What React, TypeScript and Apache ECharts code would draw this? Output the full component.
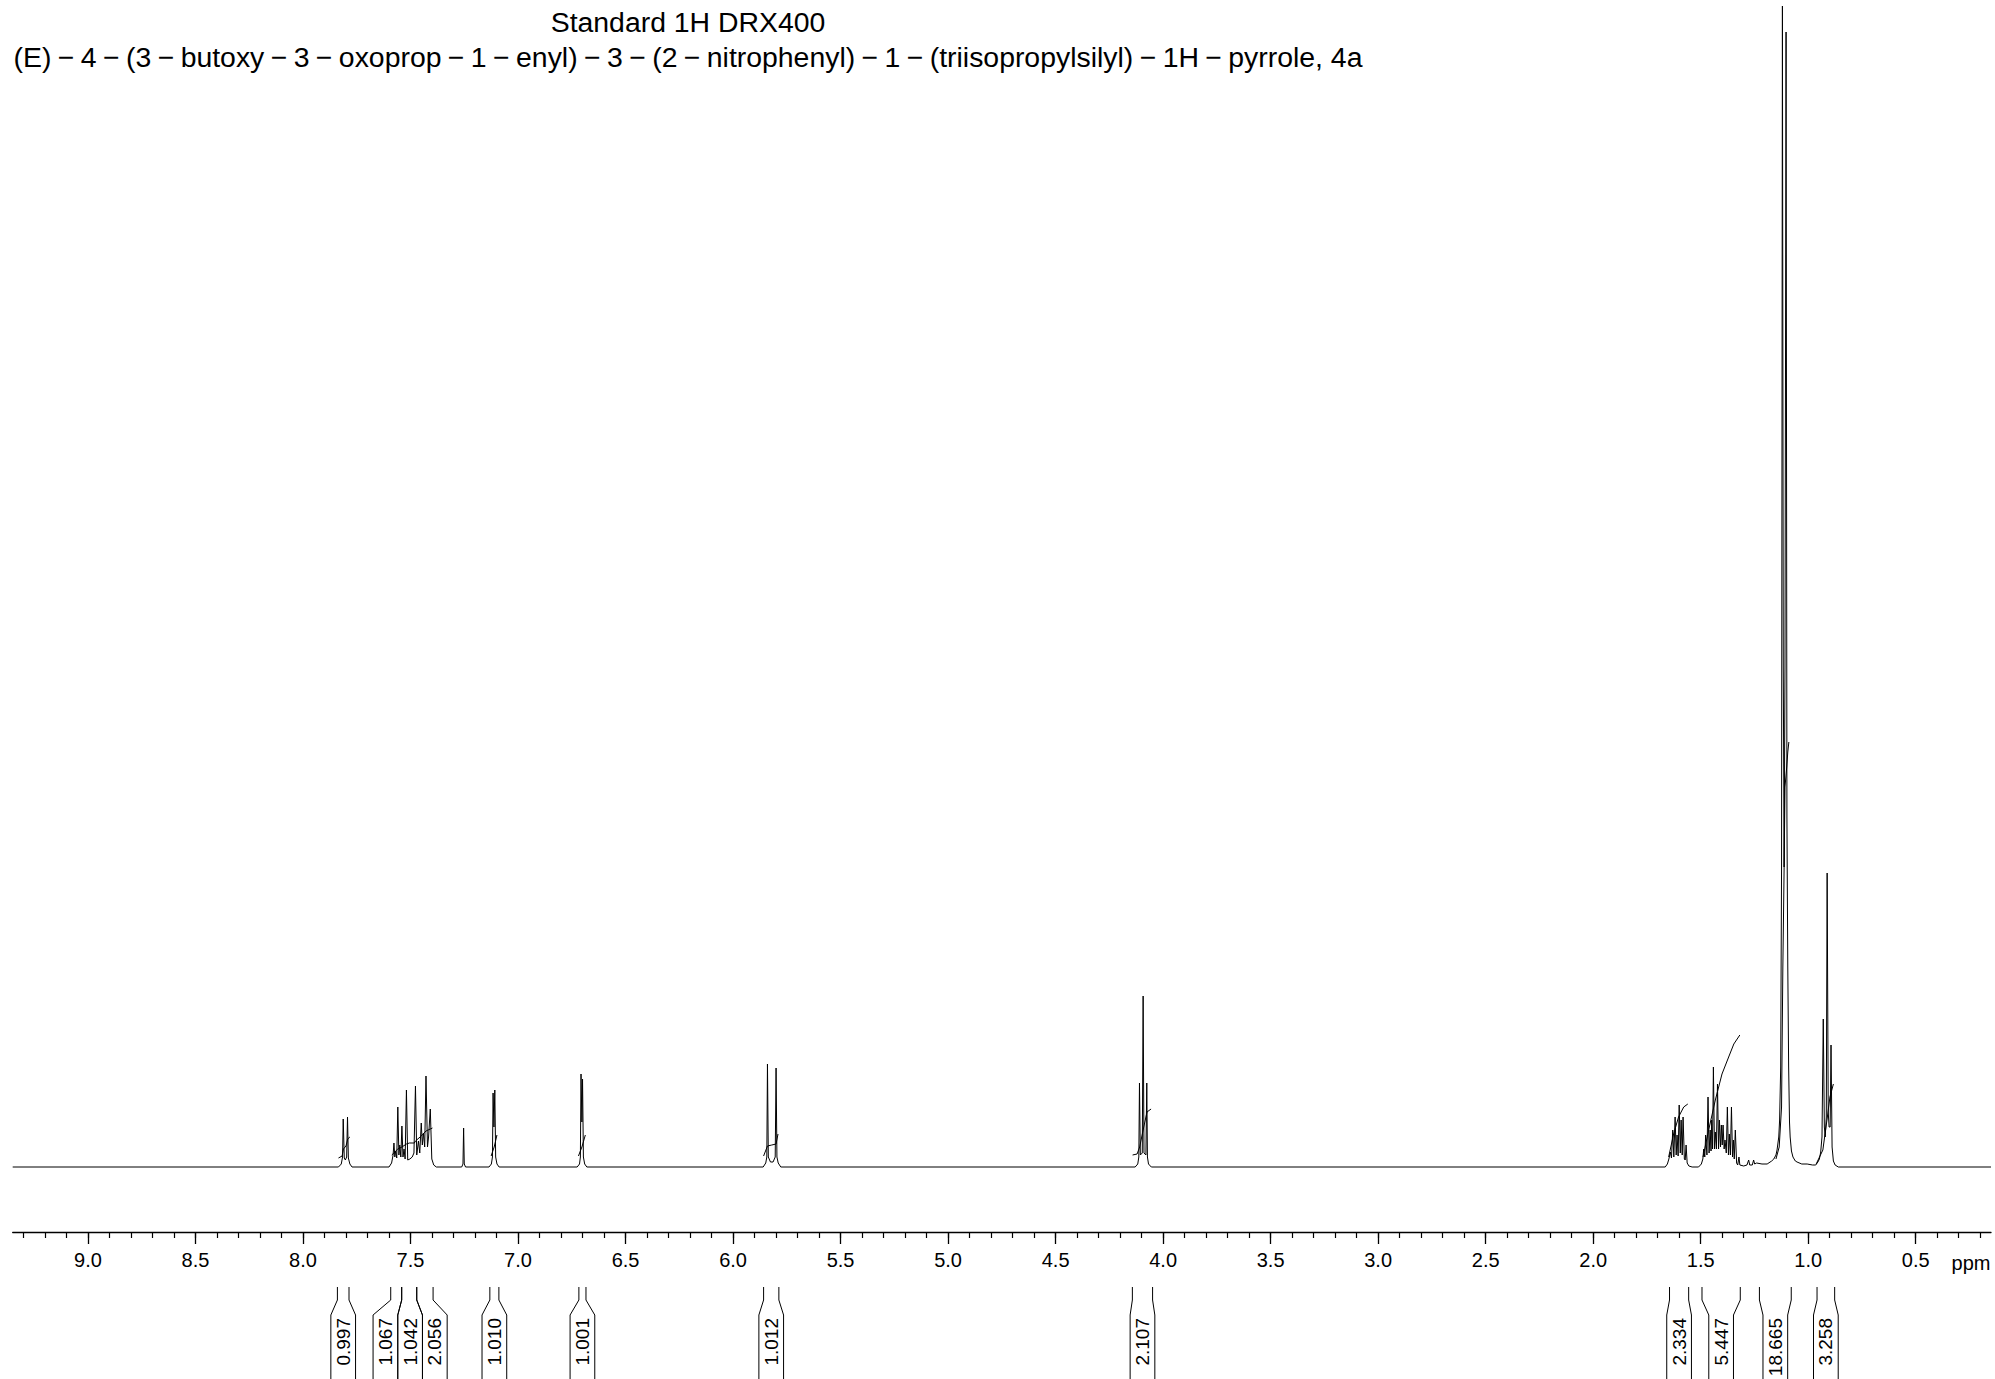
import React, { useEffect, useRef } from "react";
import * as echarts from "echarts";

const FONT = '"Liberation Sans", Arial, Helvetica, sans-serif';

const titleLine1 = "Standard 1H DRX400";
const titleLine2 =
  "(E)−4−(3−butoxy−3−oxoprop−1−enyl)−3−(2−nitrophenyl)−1−(triisopropylsilyl)−1H−pyrrole, 4a";
const axisUnit = "ppm";

const ppmLow = 0.15;
const ppmHigh = 9.35;
const majorTickValues = [9.0, 8.5, 8.0, 7.5, 7.0, 6.5, 6.0, 5.5, 5.0, 4.5, 4.0, 3.5, 3.0, 2.5, 2.0, 1.5, 1.0, 0.5];
const minorTickValues = Array.from({ length: 92 }, (_, k) => (93 - k) / 10);

// spectrum trace: [ppm, intensity]
const spectrum: [number, number][] = [
  [9.35, 0],
  // 7.80 d
  [7.835, 0], [7.822, 3], [7.816, 10], [7.813, 48], [7.808, 9], [7.803, 7], [7.797, 10], [7.793, 50], [7.789, 9], [7.782, 3], [7.772, 0],
  // 7.6 - 7.4 m
  [7.6, 0], [7.588, 4], [7.581, 12], [7.577, 24], [7.573, 10], [7.569, 16], [7.564, 9], [7.559, 60], [7.554, 12], [7.55, 22],
  [7.545, 10], [7.54, 41], [7.535, 10], [7.53, 18], [7.525, 8], [7.519, 77], [7.513, 7], [7.503, 8], [7.492, 10], [7.484, 14],
  [7.477, 81], [7.471, 12], [7.463, 26], [7.457, 14], [7.45, 44], [7.445, 22], [7.44, 34], [7.434, 20], [7.428, 91], [7.421, 20],
  [7.416, 30], [7.408, 58], [7.401, 8], [7.392, 2], [7.38, 0],
  // CHCl3
  [7.262, 0], [7.256, 3], [7.253, 39], [7.25, 3], [7.244, 0],
  // 7.11
  [7.135, 0], [7.124, 3], [7.119, 10], [7.116, 74], [7.112, 40], [7.108, 77], [7.104, 10], [7.098, 3], [7.088, 0],
  // 6.70
  [6.725, 0], [6.714, 3], [6.71, 10], [6.707, 93], [6.703, 45], [6.7, 88], [6.696, 10], [6.69, 3], [6.68, 0],
  // 5.82 d
  [5.86, 0], [5.848, 4], [5.843, 10], [5.84, 103], [5.836, 10], [5.826, 5], [5.814, 5], [5.804, 10], [5.8, 99], [5.796, 10], [5.79, 4], [5.778, 0],
  // 4.09 t
  [4.13, 0], [4.118, 3], [4.113, 10], [4.11, 84], [4.106, 12], [4.097, 14], [4.093, 171], [4.089, 14], [4.08, 12], [4.076, 84],
  [4.073, 10], [4.068, 3], [4.055, 0],
  // 1.60 m
  [1.665, 0], [1.655, 3], [1.648, 8], [1.641, 15], [1.636, 9], [1.63, 37], [1.625, 10], [1.619, 50], [1.614, 12], [1.61, 32],
  [1.605, 11], [1.6, 62], [1.595, 14], [1.591, 47], [1.586, 12], [1.582, 50], [1.576, 8], [1.572, 7], [1.568, 22], [1.563, 4],
  [1.555, 1], [1.54, 0],
  // 1.49 - 1.32 m
  [1.51, 0], [1.497, 3], [1.49, 8], [1.486, 18], [1.481, 10], [1.477, 32], [1.471, 12], [1.466, 70], [1.461, 14], [1.456, 37],
  [1.452, 16], [1.449, 47], [1.445, 18], [1.441, 100], [1.436, 18], [1.432, 35], [1.427, 18], [1.422, 83], [1.417, 18], [1.413, 47],
  [1.408, 20], [1.404, 42], [1.4, 22], [1.396, 42], [1.391, 18], [1.387, 27], [1.381, 14], [1.376, 60], [1.371, 12], [1.367, 33],
  [1.362, 12], [1.357, 60], [1.352, 10], [1.348, 27], [1.344, 8], [1.339, 37], [1.333, 4], [1.328, 2], [1.322, 10], [1.318, 2],
  [1.3, 1], [1.285, 2], [1.277, 7], [1.272, 2], [1.26, 2], [1.254, 7], [1.249, 3], [1.24, 4],
  // 1.11 d (TIPS)
  [1.215, 3], [1.191, 3], [1.17, 6], [1.16, 8], [1.15, 12], [1.145, 17], [1.137, 30], [1.133, 47], [1.128, 100], [1.124, 300],
  [1.12, 1161], [1.116, 500], [1.112, 300], [1.108, 500], [1.103, 1135], [1.099, 350], [1.095, 200], [1.091, 100], [1.087, 45],
  [1.084, 30], [1.078, 16], [1.071, 10], [1.06, 6], [1.052, 5], [1.03, 3], [1.005, 3], [0.98, 2], [0.965, 2],
  // 0.91 t
  [0.955, 5], [0.948, 8], [0.942, 15], [0.936, 30], [0.93, 148], [0.925, 40], [0.921, 30], [0.916, 50], [0.912, 294], [0.907, 55],
  [0.903, 40], [0.898, 40], [0.894, 122], [0.889, 20], [0.883, 6], [0.875, 2], [0.86, 0],
  [0.15, 0],
];

// integral traces: [ppm, height]
const integralCurves: [number, number][][] = [
  [[7.835, 9], [7.818, 11], [7.812, 18], [7.8, 21], [7.792, 28], [7.782, 30]],
  [[7.587, 12], [7.559, 18], [7.54, 20], [7.519, 23], [7.505, 24], [7.482, 24], [7.477, 26], [7.45, 31], [7.428, 36], [7.408, 38], [7.398, 39]],
  [[7.125, 11], [7.111, 20], [7.098, 32]],
  [[6.719, 11], [6.703, 20], [6.687, 32]],
  [[5.858, 11], [5.84, 21], [5.82, 22], [5.8, 23], [5.791, 33]],
  [[4.142, 12], [4.121, 13], [4.109, 20], [4.093, 37], [4.075, 55], [4.056, 58]],
  [[1.649, 10], [1.626, 33], [1.603, 50], [1.579, 60], [1.56, 63]],
  [[1.489, 10], [1.463, 37], [1.432, 67], [1.401, 93], [1.37, 110], [1.346, 123], [1.318, 132]],
  [[1.15, 8], [1.135, 20], [1.124, 60], [1.118, 200], [1.112, 300], [1.108, 380], [1.1, 400], [1.095, 415], [1.09, 425]],
  [[0.963, 3], [0.932, 17], [0.911, 50], [0.899, 70], [0.883, 83]],
];

// integration regions
const integralFrom = [7.84, 7.592, 7.541, 7.471, 7.131, 6.717, 5.858, 4.143, 1.645, 1.494, 1.227, 0.959];
const integralTo = [7.786, 7.541, 7.471, 7.395, 7.089, 6.684, 5.787, 4.049, 1.556, 1.316, 1.079, 0.877];
const integralValues = [0.997, 1.067, 1.042, 2.056, 1.01, 1.001, 1.012, 2.107, 2.334, 5.447, 18.665, 3.258];

// bracket geometry (pixels)
const BOX_W = 24.7;
const BR_TOP = 1287;
const BR_K1 = 1300;
const BR_K2 = 1315;
const BR_BOTTOM = 1390;
const LABEL_TOP = 1318;

const TITLE_SIZE = 28.4;
const MINUS_W = 29.4;

function layoutBoxes(api: any): number[] {
  const items = integralFrom
    .map((f, i) => {
      const a = api.coord([f, 0])[0];
      const b = api.coord([integralTo[i], 0])[0];
      return { i, c: (a + b) / 2 };
    })
    .sort((p, q) => p.c - q.c);
  let clusters = items.map((it) => ({ idx: [it.i], ideal: [it.c] }));
  const start = (cl: { idx: number[]; ideal: number[] }) =>
    cl.ideal.reduce((s, v) => s + v, 0) / cl.ideal.length - (cl.idx.length * BOX_W) / 2;
  let merged = true;
  while (merged) {
    merged = false;
    for (let k = 0; k < clusters.length - 1; k++) {
      const A = clusters[k];
      const B = clusters[k + 1];
      if (start(A) + A.idx.length * BOX_W > start(B) + 0.01) {
        clusters.splice(k, 2, { idx: A.idx.concat(B.idx), ideal: A.ideal.concat(B.ideal) });
        merged = true;
        break;
      }
    }
  }
  const centers: number[] = [];
  clusters.forEach((cl) => {
    const s = start(cl);
    cl.idx.forEach((id, j) => {
      centers[id] = s + (j + 0.5) * BOX_W;
    });
  });
  return centers;
}

function renderBracket(params: any, api: any) {
  const i = params.dataIndex;
  const centers = layoutBoxes(api);
  const a = api.coord([integralFrom[i], 0])[0];
  const b = api.coord([integralTo[i], 0])[0];
  const xl = Math.min(a, b);
  const xr = Math.max(a, b);
  const c = centers[i];
  const bl = c - BOX_W / 2;
  const br = c + BOX_W / 2;
  const ls = { stroke: "#000", fill: "none", lineWidth: 1 };
  return {
    type: "group",
    children: [
      { type: "polyline", shape: { points: [[xl, BR_TOP], [xl, BR_K1], [bl, BR_K2], [bl, BR_BOTTOM]] }, style: ls },
      { type: "polyline", shape: { points: [[xr, BR_TOP], [xr, BR_K1], [br, BR_K2], [br, BR_BOTTOM]] }, style: ls },
      {
        type: "text",
        x: c,
        y: LABEL_TOP,
        rotation: Math.PI / 2,
        style: {
          text: integralValues[i].toFixed(3),
          fill: "#000",
          fontSize: 19,
          fontFamily: FONT,
          align: "right",
          textAlign: "right",
          verticalAlign: "middle",
          textVerticalAlign: "middle",
        },
      },
    ],
  };
}

export default function App() {
  const ref = useRef<HTMLDivElement>(null);
  useEffect(() => {
    const chart = echarts.init(ref.current!, null, { renderer: "svg" });
    const lineBase = {
      type: "line",
      showSymbol: false,
      symbol: "none",
      silent: true,
      xAxisIndex: 0,
      yAxisIndex: 0,
      lineStyle: { color: "#000", width: 1 },
      itemStyle: { color: "#000" },
    };
    const titleRich = titleLine2.split("−").join("{m|−}");
    const option: any = {
      animation: false,
      backgroundColor: "#ffffff",
      grid: { left: 12.7, right: 4, top: 6, bottom: 147 },
      xAxis: [
        {
          type: "value",
          inverse: true,
          min: ppmLow,
          max: ppmHigh,
          position: "bottom",
          axisLine: { show: true, onZero: false, lineStyle: { color: "#000", width: 1.3 } },
          axisTick: { show: true, customValues: majorTickValues, length: 12, lineStyle: { color: "#000", width: 1.3 } },
          axisLabel: {
            show: true,
            customValues: majorTickValues,
            formatter: (v: number) => v.toFixed(1),
            color: "#000",
            fontSize: 20,
            fontFamily: FONT,
            margin: 18,
          },
          splitLine: { show: false },
        },
        {
          type: "value",
          inverse: true,
          min: ppmLow,
          max: ppmHigh,
          position: "bottom",
          offset: 0,
          axisLine: { show: false, onZero: false },
          axisTick: { show: true, customValues: minorTickValues, length: 6, lineStyle: { color: "#000", width: 1.2 } },
          axisLabel: { show: false },
          splitLine: { show: false },
        },
      ],
      yAxis: { type: "value", min: -65, max: 1161, show: false },
      series: [
        { ...lineBase, name: "spectrum", data: spectrum },
        ...integralCurves.map((c, k) => ({ ...lineBase, name: "integral" + k, data: c })),
        {
          type: "custom",
          name: "integrals",
          coordinateSystem: "cartesian2d",
          clip: false,
          silent: true,
          xAxisIndex: 0,
          yAxisIndex: 0,
          encode: { x: [0, 1] },
          data: integralValues.map((v, i) => [integralFrom[i], integralTo[i], v]),
          renderItem: renderBracket,
        },
      ],
      graphic: [
        {
          type: "text",
          x: 688,
          y: 22,
          style: {
            text: titleLine1,
            fill: "#000",
            fontSize: TITLE_SIZE,
            fontFamily: FONT,
            align: "center",
            textAlign: "center",
            verticalAlign: "middle",
            textVerticalAlign: "middle",
          },
        },
        {
          type: "text",
          x: 688,
          y: 57,
          style: {
            text: titleRich,
            fill: "#000",
            fontSize: TITLE_SIZE,
            fontFamily: FONT,
            align: "center",
            textAlign: "center",
            verticalAlign: "middle",
            textVerticalAlign: "middle",
            rich: {
              m: { width: MINUS_W, align: "center", fontSize: TITLE_SIZE, fontFamily: FONT, fill: "#000" },
            },
          },
        },
        {
          type: "text",
          x: 1971,
          y: 1263,
          style: {
            text: axisUnit,
            fill: "#000",
            fontSize: 20,
            fontFamily: FONT,
            align: "center",
            textAlign: "center",
            verticalAlign: "middle",
            textVerticalAlign: "middle",
          },
        },
      ],
    };
    chart.setOption(option);
    return () => chart.dispose();
  }, []);
  return (
    <div
      ref={ref}
      style={{ position: "fixed", left: 0, top: 0, width: 1995, height: 1379, background: "#fff" }}
    />
  );
}
